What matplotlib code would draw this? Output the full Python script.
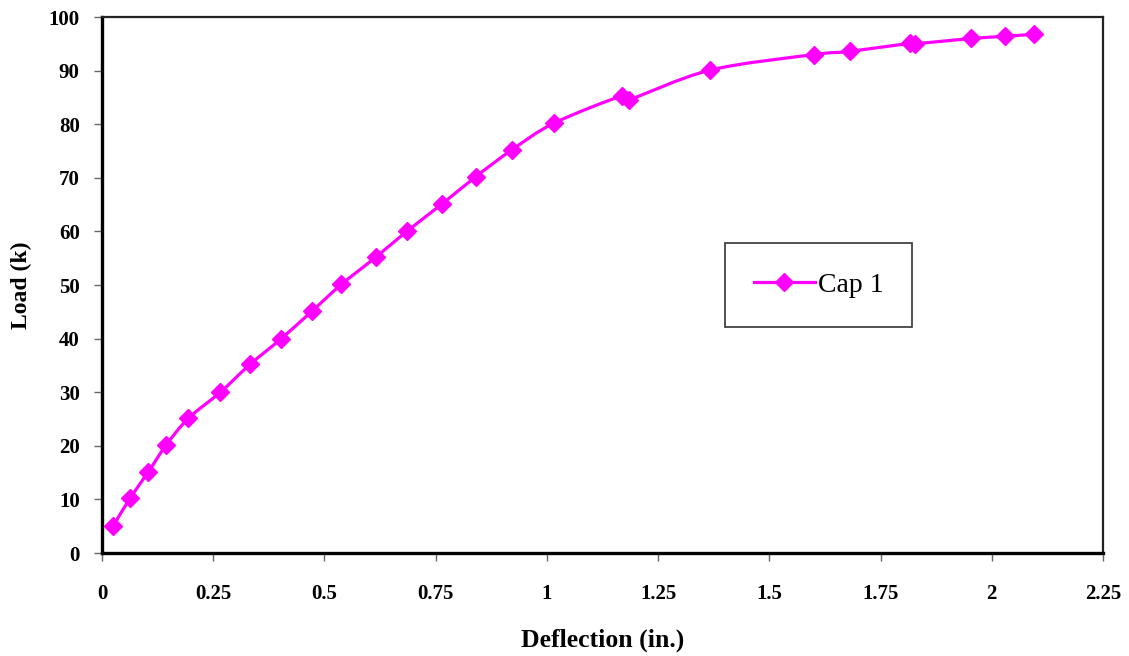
import matplotlib.pyplot as plt
from matplotlib.path import Path
from matplotlib.patches import PathPatch

# load-deflection readings for Cap 1
deflection = [0.025, 0.063, 0.104, 0.144, 0.194, 0.266, 0.333, 0.403, 0.473, 0.538,
              0.617, 0.685, 0.764, 0.840, 0.921, 1.016, 1.169, 1.185, 1.367, 1.600,
              1.681, 1.816, 1.827, 1.953, 2.030, 2.095]
load = [5.0, 10.2, 15.1, 20.1, 25.1, 30.0, 35.2, 40.0, 45.2, 50.1,
        55.3, 60.0, 65.1, 70.2, 75.2, 80.2, 85.3, 84.6, 90.1, 93.0,
        93.6, 95.1, 95.0, 96.0, 96.4, 96.8]
xticks = [0, 0.25, 0.5, 0.75, 1, 1.25, 1.5, 1.75, 2, 2.25]
xticklabels = ['0', '0.25', '0.5', '0.75', '1', '1.25', '1.5', '1.75', '2', '2.25']
yticks = list(range(0, 101, 10))

magenta = '#FF00FF'
plt.rcParams['font.family'] = ['Liberation Serif', 'DejaVu Serif']

fig = plt.figure(figsize=(11.29, 6.56), dpi=100)
ax = fig.add_axes([0.0903, 0.157, 0.8867, 0.817])

# smoothed connecting line (bezier through the points, like a spreadsheet "smoothed line")
pts = list(zip(deflection, load))
verts = [pts[0]]
codes = [Path.MOVETO]
n = len(pts)
for i in range(n - 1):
    p0 = pts[i - 1] if i > 0 else pts[i]
    p1 = pts[i]
    p2 = pts[i + 1]
    p3 = pts[i + 2] if i + 2 < n else pts[i + 1]
    c1 = (p1[0] + (p2[0] - p0[0]) / 6, p1[1] + (p2[1] - p0[1]) / 6)
    c2 = (p2[0] - (p3[0] - p1[0]) / 6, p2[1] - (p3[1] - p1[1]) / 6)
    verts += [c1, c2, p2]
    codes += [Path.CURVE4] * 3
ax.add_patch(PathPatch(Path(verts, codes), facecolor='none', edgecolor=magenta,
                       linewidth=2.3, zorder=2))

ax.plot(deflection, load, linestyle='none', color=magenta, marker='D',
        markersize=9, zorder=3)
# legend handle
ax.plot([], [], color=magenta, linewidth=2.3, marker='D', markersize=9, label='Cap 1')

ax.set_xlim(0, 2.25)
ax.set_ylim(0, 100)
ax.set_xticks(xticks)
ax.set_xticklabels(xticklabels)
ax.set_yticks(yticks)
ax.tick_params(labelsize=15, length=6, width=1, color='#666666')
for lbl in ax.get_xticklabels() + ax.get_yticklabels():
    lbl.set_fontweight('bold')
ax.tick_params(axis='x', pad=16)
ax.tick_params(axis='y', pad=10)

ax.set_xlabel('Deflection (in.)', fontsize=18.5, fontweight='bold', labelpad=18)
ax.set_ylabel('Load (k)', fontsize=17, fontweight='bold', labelpad=12)

ax.spines['left'].set_linewidth(2.4)
ax.spines['bottom'].set_linewidth(2.4)
ax.spines['top'].set_linewidth(1.6)
ax.spines['right'].set_linewidth(1.6)
ax.spines['top'].set_color('#222222')
ax.spines['right'].set_color('#222222')

leg = ax.legend(loc='lower left', bbox_to_anchor=(0.622, 0.422), fontsize=20,
                frameon=True, fancybox=False, edgecolor='black', borderpad=1.05,
                handlelength=2.2, handletextpad=0.1, borderaxespad=0)
leg.get_frame().set_linewidth(1.2)

fig.savefig('out.png', dpi=100)
